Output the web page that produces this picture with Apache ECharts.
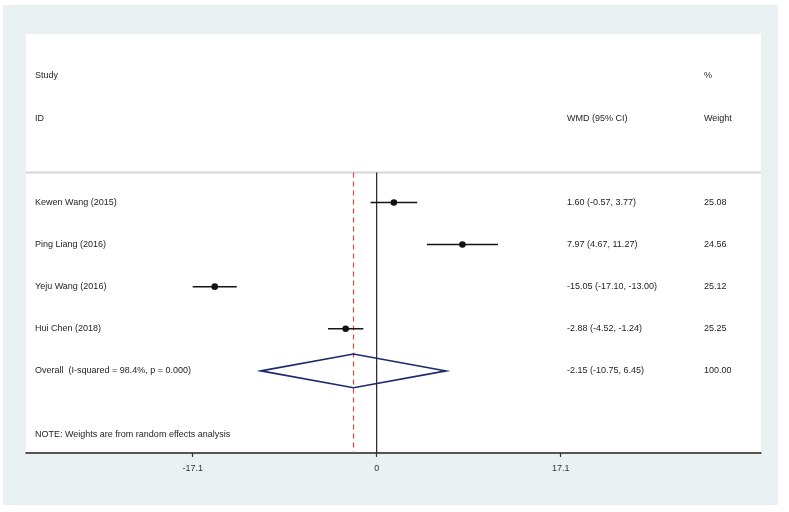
<!DOCTYPE html>
<html><head><meta charset="utf-8">
<script src="https://cdn.jsdelivr.net/npm/echarts@6/dist/echarts.min.js"></script>
<style>html,body{margin:0;padding:0;background:#fff}#c{width:789px;height:512px}</style>
</head><body><div id="c"></div>
<script>
// ---- data ----
const studies = ['Kewen Wang (2015)', 'Ping Liang (2016)', 'Yeju Wang (2016)', 'Hui Chen (2018)'];
const estimates = [1.60, 7.97, -15.05, -2.88];
const lowerCI = [-0.57, 4.67, -17.10, -4.52];
const upperCI = [3.77, 11.27, -13.00, -1.24];
const weights = ['25.08', '24.56', '25.12', '25.25'];
const overallLabel = 'Overall  (I-squared = 98.4%, p = 0.000)';
const overallEst = -2.15;
const overallLow = -10.75;
const overallHigh = 6.45;
const overallWeight = '100.00';
const tickValues = [-17.1, 0, 17.1];
const tickLabels = ['-17.1', '0', '17.1'];
const noteText = 'NOTE: Weights are from random effects analysis';

// ---- layout ----
const FONT = "'Liberation Sans', Arial, sans-serif";
const FS = 9;
const TXT = '#1e1e1e';
const colName = 35, colEff = 567, colW = 704;
const rowStudy = -2.02, rowID = -1.0, rowHeader = 0.29, rowNote = 6.52;
const fmt = (e, l, h) => e.toFixed(2) + ' (' + l.toFixed(2) + ', ' + h.toFixed(2) + ')';

const ciData = studies.map((s, i) => [lowerCI[i], upperCI[i], estimates[i], i + 1]);
const labelRows = studies.map((s, i) => ({ value: [0, i + 1], name: s, eff: fmt(estimates[i], lowerCI[i], upperCI[i]), w: weights[i] }));
labelRows.push({ value: [0, 5], name: overallLabel, eff: fmt(overallEst, overallLow, overallHigh), w: overallWeight });
labelRows.push({ value: [0, rowNote], name: noteText, eff: '', w: '' });
labelRows.push({ value: [0, rowStudy], name: 'Study', eff: '', w: '%' });
labelRows.push({ value: [0, rowID], name: 'ID', eff: 'WMD (95% CI)', w: 'Weight' });

function txt(x, y, s) {
  return { type: 'text', style: { x: x, y: y, text: s, fill: TXT, font: FS + 'px ' + FONT, textVerticalAlign: 'middle', textAlign: 'left' } };
}

const chart = echarts.init(document.getElementById('c'), null, { renderer: 'canvas' });
chart.setOption({
  animation: false,
  backgroundColor: '#fff',
  graphic: [{ type: 'rect', z: -100, shape: { x: 3, y: 5, width: 775, height: 500 }, style: { fill: '#eaf1f3' } }],
  grid: { left: 26, right: 28, top: 34, bottom: 59, show: true, backgroundColor: '#fff', borderWidth: 0 },
  xAxis: {
    type: 'value', min: -32.59, max: 35.72,
    splitLine: { show: false },
    axisLine: { onZero: false, lineStyle: { color: '#222', width: 1.5 } },
    axisTick: { customValues: tickValues, length: 4, lineStyle: { color: '#333', width: 1.2 } },
    axisLabel: { customValues: tickValues, formatter: v => { const i = tickValues.findIndex(t => Math.abs(t - v) < 1e-6); return i >= 0 ? tickLabels[i] : String(v); }, color: '#333', fontSize: FS, fontFamily: FONT, margin: 11 }
  },
  yAxis: { type: 'value', min: -3, max: 6.95, inverse: true, show: false },
  series: [
    { // header separator
      type: 'custom', silent: true, data: [[0, rowHeader]],
      renderItem: (p, api) => {
        const cs = p.coordSys; const y = api.coord([0, rowHeader])[1];
        return { type: 'line', shape: { x1: cs.x, y1: y, x2: cs.x + cs.width, y2: y }, style: { stroke: '#d6d6d6', lineWidth: 2 } };
      }
    },
    { // zero line
      type: 'custom', silent: true, data: [[0, rowHeader]],
      renderItem: (p, api) => {
        const cs = p.coordSys; const pt = api.coord([0, rowHeader]);
        return { type: 'line', shape: { x1: pt[0], y1: pt[1], x2: pt[0], y2: cs.y + cs.height }, style: { stroke: '#222', lineWidth: 1.2 } };
      }
    },
    { // overall dashed line
      type: 'custom', silent: true, data: [[overallEst, rowHeader]],
      renderItem: (p, api) => {
        const cs = p.coordSys; const pt = api.coord([api.value(0), api.value(1)]);
        return { type: 'line', shape: { x1: pt[0], y1: pt[1], x2: pt[0], y2: cs.y + cs.height }, style: { stroke: '#d9483a', lineWidth: 1.2, lineDash: [5, 4] } };
      }
    },
    { // CIs
      type: 'custom', silent: true, data: ciData,
      renderItem: (p, api) => {
        const a = api.coord([api.value(0), api.value(3)]);
        const b = api.coord([api.value(1), api.value(3)]);
        const c = api.coord([api.value(2), api.value(3)]);
        return { type: 'group', children: [
          { type: 'line', shape: { x1: a[0], y1: a[1], x2: b[0], y2: b[1] }, style: { stroke: '#151515', lineWidth: 1.5 } },
          { type: 'circle', shape: { cx: c[0], cy: c[1], r: 3.3 }, style: { fill: '#111' } }
        ] };
      }
    },
    { // overall diamond
      type: 'custom', silent: true, data: [[overallLow, overallEst, overallHigh, 5]],
      renderItem: (p, api) => {
        const y = api.value(3);
        const l = api.coord([api.value(0), y]), h = api.coord([api.value(2), y]);
        const t = api.coord([api.value(1), y - 0.4]), bt = api.coord([api.value(1), y + 0.4]);
        return { type: 'polygon', shape: { points: [l, t, h, bt] }, style: { fill: 'none', stroke: '#1e2a6e', lineWidth: 1.6 } };
      }
    },
    { // text columns
      type: 'custom', silent: true, data: labelRows,
      renderItem: (p, api) => {
        const d = labelRows[p.dataIndex];
        const y = api.coord([0, api.value(1)])[1];
        return { type: 'group', children: [txt(colName, y, d.name), txt(colEff, y, d.eff), txt(colW, y, d.w)] };
      }
    }
  ]
});
</script></body></html>
